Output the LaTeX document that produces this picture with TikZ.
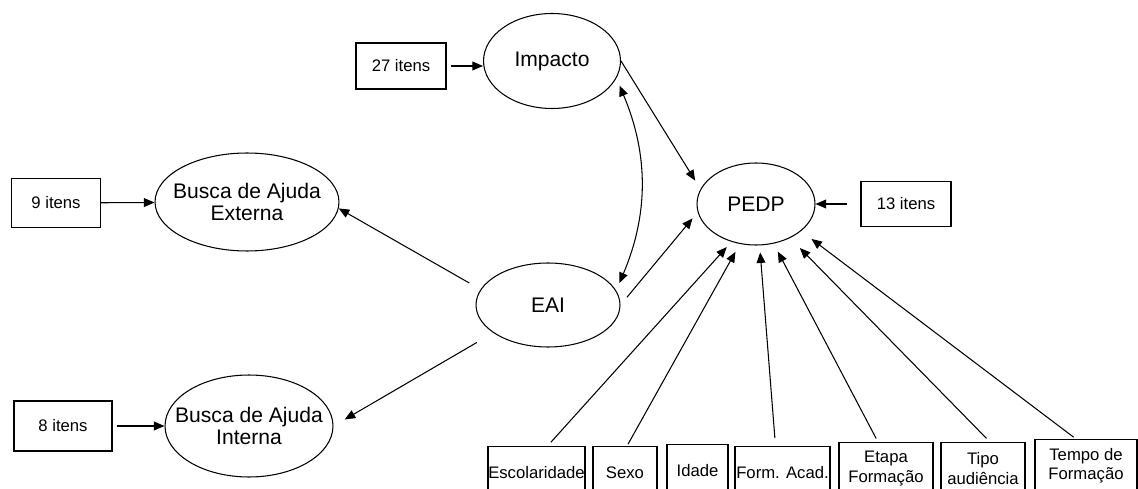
\documentclass[tikz,border=0pt]{standalone}
\usepackage{fontspec}
\setmainfont{Liberation Sans}
\usepackage{tikz}
\usetikzlibrary{arrows.meta}
\usetikzlibrary{shapes.geometric}

\tikzset{
	fator/.style={ellipse, draw, line width=0.6pt, inner xsep=-12pt, inner ysep=0pt, align=center, font=\fontsize{12}{13}\selectfont},
	itens/.style={rectangle, draw, line width=0.7pt, inner sep=0pt, minimum width=1.8cm, minimum height=0.92cm, font=\fontsize{9.5}{11}\selectfont},
	var/.style={rectangle, draw, line width=0.7pt, inner sep=0pt, anchor=north, minimum height=1.04cm, align=center, font=\fontsize{9.5}{11.2}\selectfont}
}

\begin{document}
\begin{tikzpicture}[x=0.02cm, y=-0.02cm, >={Triangle[length=6pt,width=5pt]}, line width=0.6pt]
\clip (0,0) rectangle (1138,489);
\node[itens] (b27) at (401,66) {27 itens};
\node[fator, minimum width=2.74cm, minimum height=1.9cm] (imp) at (552,61) {Impacto};
\node[itens, minimum width=1.78cm, minimum height=0.98cm] (b9) at (56,203) {9 itens};
\node[fator, minimum width=3.68cm, minimum height=1.96cm] (ext) at (247,202) {Busca de Ajuda\\Externa};
\node[itens, minimum width=1.96cm, minimum height=1cm] (b8) at (63,426) {8 itens};
\node[fator, minimum width=3.36cm, minimum height=2.04cm] (int) at (249,426) {Busca de Ajuda\\Interna};
\node[fator, minimum width=2.88cm, minimum height=1.68cm] (eai) at (548,305) {EAI};
\node[fator, minimum width=2.36cm, minimum height=1.64cm] (pedp) at (756,204) {PEDP};
\node[itens, minimum height=0.9cm] (b13) at (906,204) {13 itens};

\node[var, minimum width=1.94cm] (esc) at (536.5,446) {Escolaridade};
\node[var, minimum width=1.28cm] (sexo) at (625,446) {Sexo};
\node[var, minimum width=1.22cm] (idade) at (697.5,444) {Idade};
\node[var, minimum width=1.9cm] (form) at (782.5,446) {Form. Acad.};
\node[var, minimum width=1.88cm] (etapa) at (886,442) {Etapa\\Formação};
\node[var, minimum width=1.68cm] (tipo) at (983,442) {Tipo\\audiência};
\node[var, minimum width=2.04cm] (tempo) at (1086,439) {Tempo de\\Formação};

\path[->]
(b27.east) edge[shorten <=0.08cm] (b27.east -| imp.west)
(b9) edge (ext)
(b8.east) edge[shorten <=0.08cm] (int.west)
(b13.west) edge[shorten <=0.26cm] (pedp.east)
(imp.east) edge[shorten >=0.2cm] (pedp.165)
(eai.east) edge[shorten <=0.2cm, shorten >=0.16cm] (pedp.188)
(eai.167) edge[shorten <=0.26cm] (ext.-4)
(eai.207) edge[shorten <=0.38cm, shorten >=0.26cm] (int.east);
\path[<->]
(imp.345) edge[bend left=23, shorten <=0.16cm, shorten >=0.16cm] (eai.12);
\path[->]
([xshift=0.22cm]esc.north) edge[shorten <=0.1cm, shorten >=0.14cm] (pedp.237)
([xshift=0.04cm]sexo.north) edge[shorten <=0.04cm, shorten >=0.18cm] (pedp.248)
([xshift=-0.14cm]form.north) edge[shorten <=0.16cm, shorten >=0.14cm] (pedp.275)
([xshift=-0.16cm]etapa.north) edge[shorten <=0.08cm, shorten >=0.18cm] (pedp.294)
([xshift=0.14cm]tipo.north) edge[shorten <=0.1cm, shorten >=0.28cm] (pedp.315)
([xshift=-0.2cm]tempo.north) edge[shorten <=0.06cm, shorten >=0.26cm] (pedp.329);
\end{tikzpicture}
\end{document}
